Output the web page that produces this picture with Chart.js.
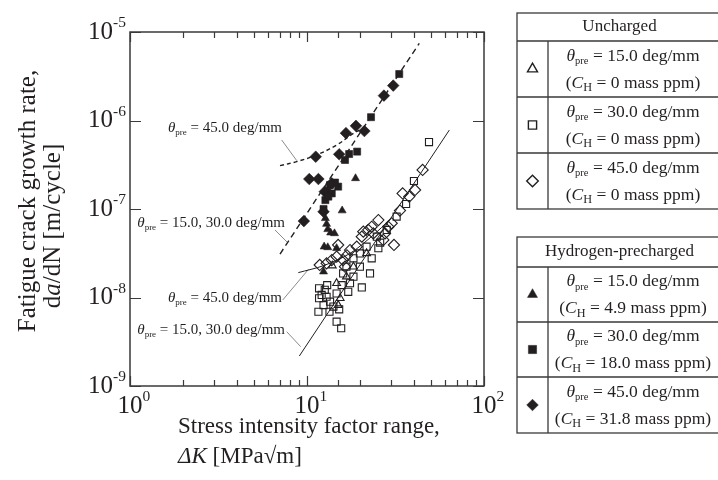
<!DOCTYPE html>
<html>
<head>
<meta charset="utf-8">
<script src="https://cdn.jsdelivr.net/npm/chart.js@4.4.1/dist/chart.umd.min.js"></script>
<style>
  html, body { margin: 0; padding: 0; background: #fff; }
  #c { display: block; }
</style>
</head>
<body>
<canvas id="c" width="718" height="480"></canvas>
<script>
// da/dN vs dK, uncharged (open) and hydrogen-precharged (filled)
const unchg15K    = [13.9, 14.7, 15.4, 15.0, 16.7, 18.3, 21.7];
const unchg15Rate = [2.29e-8, 1.45e-8, 9.8e-9, 8.2e-9, 1.72e-8, 2.23e-8, 3.15e-8];

const unchg30K    = [48.9, 40.2, 36.3, 32.1, 28.2, 25.9, 25.3, 23.2, 22.7, 20.4, 19.9, 18.3, 17.5, 17.1, 15.7, 21.7,
                     19.9, 18.3, 24.8, 11.7, 13.0, 12.1, 11.7, 12.9, 13.5, 12.4, 13.4, 11.6, 15.2, 14.7, 15.6, 14.1,
                     12.6, 14.7, 16.0, 16.7];
const unchg30Rate = [5.7e-7, 2.07e-7, 1.14e-7, 8.2e-8, 5.8e-8, 4.17e-8, 3.6e-8, 2.77e-8, 1.87e-8, 1.3e-8, 2.23e-8, 1.72e-8,
                     1.45e-8, 1.16e-8, 1.38e-8, 3.75e-8, 3.15e-8, 2.77e-8, 4.87e-8, 1.27e-8, 1.38e-8, 1.07e-8, 9.8e-9,
                     1.02e-8, 8.97e-9, 8.2e-9, 6.9e-9, 6.9e-9, 7.35e-9, 5.33e-9, 4.49e-9, 7.9e-9, 1.22e-8, 1.11e-8,
                     1.87e-8, 2.23e-8];

const unchg45K    = [11.8, 12.9, 14.7, 16.0, 16.8, 17.5, 19.1, 20.4, 20.8, 22.2, 23.2, 25.3, 27.6, 30.1, 31.0, 33.5,
                     34.7, 37.8, 40.8, 45.0, 16.4, 13.8, 23.7, 28.8, 27.0, 15.0];
const unchg45Rate = [2.33e-8, 2.43e-8, 2.89e-8, 2.65e-8, 3.0e-8, 3.44e-8, 3.75e-8, 4.87e-8, 5.55e-8, 5.8e-8, 6.3e-8,
                     7.5e-8, 5.3e-8, 6.9e-8, 3.92e-8, 9.6e-8, 1.5e-7, 1.38e-7, 1.64e-7, 2.76e-7, 2.23e-8, 2.65e-8,
                     5.3e-8, 6.3e-8, 4.47e-8, 3.92e-8];

const hyd15K    = [18.8, 15.8, 12.7, 12.9, 13.1, 13.6, 14.3, 12.5, 13.1, 14.7, 12.4];
const hyd15Rate = [2.22e-7, 9.6e-8, 7.85e-8, 6.76e-8, 5.9e-8, 5.4e-8, 5.3e-8, 3.75e-8, 3.68e-8, 3.6e-8, 1.96e-8];

const hyd30K    = [33.2, 23.0, 19.2, 17.3, 16.4, 15.0, 14.4, 13.5, 13.0, 12.7, 12.4, 13.8, 13.2];
const hyd30Rate = [3.35e-6, 1.09e-6, 4.45e-7, 4.18e-7, 3.58e-7, 1.79e-7, 1.99e-7, 1.87e-7, 1.57e-7, 1.26e-7, 1.0e-7,
                   1.5e-7, 1.38e-7];

const hyd45K    = [9.6, 10.3, 11.6, 11.2, 15.2, 16.6, 18.9, 21.1, 27.2, 30.7, 13.8, 12.6, 12.4];
const hyd45Rate = [7.3e-8, 2.18e-7, 2.18e-7, 3.9e-7, 4.15e-7, 7.2e-7, 8.7e-7, 7.6e-7, 1.91e-6, 2.48e-6, 1.95e-7,
                   1.57e-7, 9.3e-8];

// fitted trend lines
const fitUnchg1530K    = [9.05, 63.7];
const fitUnchg1530Rate = [2.18e-9, 7.8e-7];
const fitUnchg45K      = [8.93, 12.4, 17.5, 23.7, 29.4];
const fitUnchg45Rate   = [1.91e-8, 2.29e-8, 3.15e-8, 5.08e-8, 7.6e-8];
const fitHyd1530K      = [7.04, 43.1];
const fitHyd1530Rate   = [3.1e-8, 7.45e-6];
const fitHyd45K        = [7.04, 8.74, 11.3, 14.7, 18.3, 20.8];
const fitHyd45Rate     = [3.09e-7, 3.43e-7, 4.07e-7, 5.28e-7, 7.16e-7, 8.2e-7];

// annotation labels (anchored at right end) and their leader lines
const noteLabels = ['45.0 deg/mm', '15.0, 30.0 deg/mm', '45.0 deg/mm', '15.0, 30.0 deg/mm'];
const noteK      = [7.22, 7.51, 7.22, 7.51];
const noteRate   = [8.2e-7, 6.95e-8, 9.86e-9, 4.3e-9];
const leaderK    = [[7.19, 8.75], [6.59, 7.71], [7.29, 10.2], [7.68, 9.21]];
const leaderRate = [[6.03e-7, 3.52e-7], [5.8e-8, 4.24e-8], [9.37e-9, 2.08e-8], [4.11e-9, 2.78e-9]];

const xTickExps = [0, 1, 2];
const yTickExps = [-9, -8, -7, -6, -5];

const INK = '#231f20';
const SERIF = '"Liberation Serif", "DejaVu Serif", serif';

const zip = (xs, ys) => xs.map((x, i) => ({ x, y: ys[i] }));

function markerSet(K, rate, style, filled, r) {
  return {
    type: 'scatter', data: zip(K, rate), order: 1,
    pointStyle: style, pointRadius: r, pointHoverRadius: r,
    pointBackgroundColor: filled ? INK : 'rgba(255,255,255,0)',
    pointBorderColor: INK, pointBorderWidth: filled ? 0.6 : 1.1
  };
}

function lineSet(K, rate, dash, width, color, tension) {
  return {
    type: 'line', data: zip(K, rate), order: 5,
    borderColor: color || INK, borderWidth: width, borderDash: dash || [],
    pointRadius: 0, fill: false, tension: tension || 0
  };
}

const datasets = [
  markerSet(unchg30K, unchg30Rate, 'rect', false, 5),
  markerSet(unchg45K, unchg45Rate, 'rectRot', false, 5.6),
  markerSet(unchg15K, unchg15Rate, 'triangle', false, 4.5),
  markerSet(hyd15K, hyd15Rate, 'triangle', true, 4.6),
  markerSet(hyd30K, hyd30Rate, 'rect', true, 5),
  markerSet(hyd45K, hyd45Rate, 'rectRot', true, 5.8),
  lineSet(fitUnchg1530K, fitUnchg1530Rate, null, 1),
  lineSet(fitUnchg45K, fitUnchg45Rate, null, 1, INK, 0.3),
  lineSet(fitHyd1530K, fitHyd1530Rate, [6, 4], 1.4),
  lineSet(fitHyd45K, fitHyd45Rate, [4, 3], 1.4, INK, 0.35)
];
leaderK.forEach((k, i) => datasets.push(lineSet(k, leaderRate[i], null, 0.8, '#6d6d6d')));

// rich text: parts = [text, flags] with flags i=italic, s=subscript, u=superscript
function drawRich(ctx, parts, x, y, size, align, smallScale) {
  const sc = smallScale || 0.6;
  const fontOf = f => (f.includes('i') ? 'italic ' : '') +
    ((f.includes('s') || f.includes('u')) ? size * sc : size) + 'px ' + SERIF;
  let w = 0;
  parts.forEach(p => { ctx.font = fontOf(p[1]); w += ctx.measureText(p[0]).width; });
  let cx = align === 'right' ? x - w : align === 'center' ? x - w / 2 : x;
  ctx.textAlign = 'left';
  ctx.textBaseline = 'middle';
  parts.forEach(p => {
    ctx.font = fontOf(p[1]);
    const dy = p[1].includes('s') ? size * 0.3 : p[1].includes('u') ? -size * 0.36 : 0;
    ctx.fillText(p[0], cx, y + dy);
    cx += ctx.measureText(p[0]).width;
  });
  return w;
}

const theta = txt => [['θ', 'i'], ['pre', 's'], [' = ' + txt, '']];

function drawLegendBox(ctx, title, rows, ys) {
  const x0 = 517, x1 = 722, xs = 548;
  ctx.save();
  ctx.strokeStyle = '#3a3a3a';
  ctx.lineWidth = 1.3;
  ctx.strokeRect(x0, ys[0], x1 - x0, ys[ys.length - 1] - ys[0]);
  ctx.beginPath();
  for (let i = 1; i < ys.length - 1; i++) { ctx.moveTo(x0, ys[i]); ctx.lineTo(x1, ys[i]); }
  ctx.moveTo(xs, ys[1]); ctx.lineTo(xs, ys[ys.length - 1]);
  ctx.stroke();
  ctx.fillStyle = INK;
  drawRich(ctx, [[title, '']], (x0 + x1) / 2, (ys[0] + ys[1]) / 2, 17, 'center');
  rows.forEach((r, i) => {
    const top = ys[i + 1], bot = ys[i + 2], mid = (top + bot) / 2;
    const cx = (xs + 718) / 2;
    drawRich(ctx, theta(r.deg), cx, top + (bot - top) * 0.27, 17.5, 'center');
    drawRich(ctx, [['(', ''], ['C', 'i'], ['H', 's'], [' = ' + r.ch + ' mass ppm)', '']],
      cx, top + (bot - top) * 0.75, 17.5, 'center', 0.7);
    ctx.save();
    ctx.fillStyle = r.filled ? INK : '#fff';
    ctx.strokeStyle = INK;
    ctx.lineWidth = r.filled ? 0.5 : 1.4;
    ctx.beginPath();
    Chart.helpers.drawPoint(ctx, { pointStyle: r.style, radius: 5.8, borderWidth: ctx.lineWidth }, (x0 + xs) / 2, mid);
    ctx.restore();
  });
  ctx.restore();
}

const framePlugin = {
  id: 'frame',
  afterDraw(chart) {
    const { ctx, chartArea: a, scales: { x, y } } = chart;
    ctx.save();
    // frame
    ctx.strokeStyle = '#3a3a3a';
    ctx.lineWidth = 1.5;
    ctx.strokeRect(a.left, a.top, a.right - a.left, a.bottom - a.top);
    // inward ticks
    ctx.lineWidth = 1.2;
    ctx.beginPath();
    x.ticks.forEach(t => {
      const px = Math.round(x.getPixelForValue(t.value)) + 0.5;
      const major = Math.abs(Math.log10(t.value) - Math.round(Math.log10(t.value))) < 1e-9;
      const len = major ? 10 : 6;
      ctx.moveTo(px, a.bottom); ctx.lineTo(px, a.bottom - len);
      ctx.moveTo(px, a.top); ctx.lineTo(px, a.top + len);
    });
    yTickExps.forEach(e => {
      const py = Math.round(y.getPixelForValue(Math.pow(10, e))) + 0.5;
      ctx.moveTo(a.left, py); ctx.lineTo(a.left + 11, py);
      ctx.moveTo(a.right, py); ctx.lineTo(a.right - 11, py);
    });
    ctx.stroke();

    // tick labels 10^n
    ctx.fillStyle = INK;
    xTickExps.forEach(e => {
      const px = x.getPixelForValue(Math.pow(10, e));
      ctx.font = '25px ' + SERIF;
      const w10 = ctx.measureText('10').width;
      drawRich(ctx, [['10', ''], [String(e), 'u']], px - w10 / 2, a.bottom + 20, 25, 'left', 0.62);
    });
    yTickExps.forEach(e => {
      const py = y.getPixelForValue(Math.pow(10, e));
      drawRich(ctx, [['10', ''], [String(e), 'u']], a.left - 4, py, 25, 'right', 0.62);
    });

    // annotations
    noteLabels.forEach((lab, i) => {
      drawRich(ctx, theta(lab), x.getPixelForValue(noteK[i]), y.getPixelForValue(noteRate[i]), 15, 'right');
    });

    // axis titles
    drawRich(ctx, [['Stress intensity factor range,', '']], 178, 427, 23, 'left');
    drawRich(ctx, [['ΔK', 'i'], [' [MPa√m]', '']], 178, 457, 23, 'left');
    ctx.save();
    ctx.translate(28, 201);
    ctx.rotate(-Math.PI / 2);
    drawRich(ctx, [['Fatigue crack growth rate,', '']], 0, 0, 25, 'center');
    ctx.restore();
    ctx.save();
    ctx.translate(53, 226);
    ctx.rotate(-Math.PI / 2);
    drawRich(ctx, [['d', ''], ['a', 'i'], ['/dN [m/cycle]', '']], 0, 0, 25, 'center');
    ctx.restore();

    // legend tables
    drawLegendBox(ctx, 'Uncharged', [
      { deg: '15.0 deg/mm', ch: '0', style: 'triangle', filled: false },
      { deg: '30.0 deg/mm', ch: '0', style: 'rect', filled: false },
      { deg: '45.0 deg/mm', ch: '0', style: 'rectRot', filled: false }
    ], [13, 41, 97, 153, 209]);
    drawLegendBox(ctx, 'Hydrogen-precharged', [
      { deg: '15.0 deg/mm', ch: '4.9', style: 'triangle', filled: true },
      { deg: '30.0 deg/mm', ch: '18.0', style: 'rect', filled: true },
      { deg: '45.0 deg/mm', ch: '31.8', style: 'rectRot', filled: true }
    ], [237, 267, 322, 377, 433]);
    ctx.restore();
  }
};

new Chart(document.getElementById('c'), {
  type: 'scatter',
  data: { datasets },
  options: {
    responsive: false,
    animation: false,
    devicePixelRatio: 1,
    layout: { padding: { left: 130, right: 234, top: 32, bottom: 94 } },
    plugins: { legend: { display: false }, tooltip: { enabled: false } },
    scales: {
      x: {
        type: 'logarithmic', min: 1, max: 100,
        ticks: { display: false },
        grid: { display: false, drawTicks: false },
        border: { display: false }
      },
      y: {
        type: 'logarithmic', min: 1e-9, max: 1e-5,
        ticks: { display: false },
        grid: { display: false, drawTicks: false },
        border: { display: false }
      }
    }
  },
  plugins: [framePlugin]
});
</script>
</body>
</html>
